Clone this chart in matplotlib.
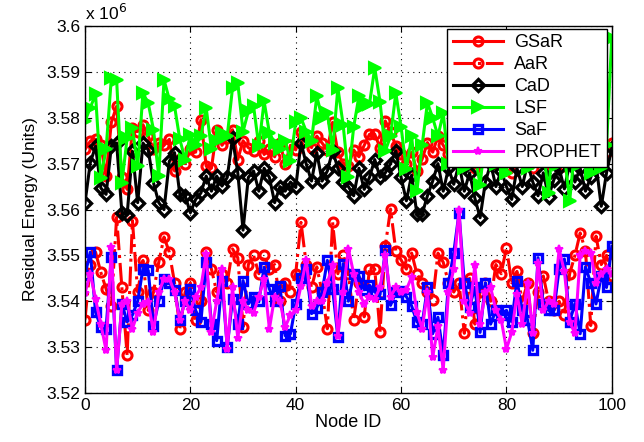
import numpy as np
import matplotlib
matplotlib.use('Agg')
import matplotlib.pyplot as plt
from matplotlib.ticker import FuncFormatter, MultipleLocator

plt.rcParams['font.family'] = ['Liberation Sans', 'DejaVu Sans']

# node ids 0..100, energy in units of 1e6
nodes = np.arange(0, 101)

gsar = [3.5731, 3.5749, 3.5753, 3.5740, 3.5673, 3.5790, 3.5825, 3.5670, 3.5644, 3.5778,
        3.5770, 3.5785, 3.5760, 3.5731, 3.5745, 3.5740, 3.5753, 3.5684, 3.5710, 3.5700,
        3.5731, 3.5725, 3.5796, 3.5695, 3.5690, 3.5774, 3.5740, 3.5755, 3.5774, 3.5709,
        3.5750, 3.5735, 3.5728, 3.5750, 3.5720, 3.5731, 3.5715, 3.5745, 3.5700, 3.5740,
        3.5730, 3.5770, 3.5750, 3.5735, 3.5760, 3.5745, 3.5730, 3.5790, 3.5725, 3.5700,
        3.5695, 3.5730, 3.5715, 3.5740, 3.5764, 3.5764, 3.5735, 3.5793, 3.5770, 3.5738,
        3.5720, 3.5699, 3.5725, 3.5684, 3.5710, 3.5746, 3.5725, 3.5760, 3.5740, 3.5720,
        3.5750, 3.5700, 3.5760, 3.5735, 3.5690, 3.5745, 3.5770, 3.5720, 3.5700, 3.5755,
        3.5735, 3.5680, 3.5740, 3.5765, 3.5710, 3.5690, 3.5750, 3.5725, 3.5700, 3.5760,
        3.5735, 3.5695, 3.5745, 3.5720, 3.5770, 3.5730, 3.5705, 3.5750, 3.5735, 3.5725,
        3.5745]

aar = [3.5360, 3.5480, 3.5507, 3.5463, 3.5427, 3.5390, 3.5583, 3.5430, 3.5282, 3.5576,
       3.5420, 3.5489, 3.5380, 3.5420, 3.5485, 3.5540, 3.5507, 3.5440, 3.5340, 3.5420,
       3.5440, 3.5358, 3.5400, 3.5507, 3.5470, 3.5420, 3.5460, 3.5440, 3.5514, 3.5495,
       3.5344, 3.5480, 3.5500, 3.5460, 3.5500, 3.5470, 3.5480, 3.5400, 3.5440, 3.5420,
       3.5460, 3.5572, 3.5480, 3.5430, 3.5475, 3.5420, 3.5340, 3.5572, 3.5460, 3.5500,
       3.5460, 3.5360, 3.5440, 3.5366, 3.5470, 3.5470, 3.5333, 3.5520, 3.5601, 3.5510,
       3.5490, 3.5470, 3.5505, 3.5460, 3.5440, 3.5420, 3.5402, 3.5505, 3.5485, 3.5440,
       3.5420, 3.5440, 3.5330, 3.5450, 3.5350, 3.5420, 3.5440, 3.5400, 3.5480, 3.5460,
       3.5517, 3.5440, 3.5465, 3.5400, 3.5440, 3.5330, 3.5420, 3.5455, 3.5400, 3.5380,
       3.5400, 3.5370, 3.5460, 3.5500, 3.5549, 3.5510, 3.5347, 3.5542, 3.5480, 3.5500,
       3.5455]

cad = [3.5615, 3.5702, 3.5738, 3.5647, 3.5633, 3.5738, 3.5745, 3.5593, 3.5589, 3.5727,
       3.5615, 3.5745, 3.5730, 3.5658, 3.5615, 3.5600, 3.5705, 3.5724, 3.5633, 3.5630,
       3.5593, 3.5622, 3.5636, 3.5673, 3.5640, 3.5673, 3.5651, 3.5670, 3.5756, 3.5680,
       3.5555, 3.5670, 3.5684, 3.5640, 3.5690, 3.5670, 3.5615, 3.5650, 3.5640, 3.5660,
       3.5648, 3.5746, 3.5699, 3.5662, 3.5724, 3.5662, 3.5684, 3.5728, 3.5690, 3.5660,
       3.5650, 3.5630, 3.5690, 3.5644, 3.5670, 3.5709, 3.5670, 3.5680, 3.5700, 3.5728,
       3.5670, 3.5619, 3.5675, 3.5590, 3.5590, 3.5630, 3.5662, 3.5700, 3.5640, 3.5690,
       3.5655, 3.5700, 3.5640, 3.5680, 3.5625, 3.5582, 3.5660, 3.5700, 3.5650, 3.5685,
       3.5650, 3.5622, 3.5690, 3.5650, 3.5700, 3.5660, 3.5630, 3.5680, 3.5628, 3.5665,
       3.5690, 3.5645, 3.5700, 3.5660, 3.5690, 3.5640, 3.5670, 3.5700, 3.5607, 3.5680,
       3.5734]

lsf = [3.5793, 3.5822, 3.5851, 3.5669, 3.5731, 3.5887, 3.5883, 3.5658, 3.5756, 3.5778,
       3.5694, 3.5854, 3.5832, 3.5774, 3.5673, 3.5883, 3.5840, 3.5825, 3.5753, 3.5709,
       3.5763, 3.5740, 3.5760, 3.5822, 3.5731, 3.5750, 3.5767, 3.5760, 3.5865, 3.5876,
       3.5770, 3.5814, 3.5825, 3.5738, 3.5836, 3.5767, 3.5745, 3.5731, 3.5750, 3.5706,
       3.5790, 3.5800, 3.5770, 3.5750, 3.5847, 3.5800, 3.5810, 3.5730, 3.5865, 3.5785,
       3.5670, 3.5780, 3.5847, 3.5825, 3.5830, 3.5909, 3.5835, 3.5728, 3.5760, 3.5854,
       3.5780, 3.5688, 3.5760, 3.5640, 3.5740, 3.5833, 3.5800, 3.5760, 3.5810, 3.5700,
       3.5780, 3.5740, 3.5690, 3.5800, 3.5720, 3.5654, 3.5760, 3.5820, 3.5700, 3.5750,
       3.5680, 3.5790, 3.5730, 3.5770, 3.5690, 3.5740, 3.5800, 3.5730, 3.5636, 3.5780,
       3.5700, 3.5720, 3.5618, 3.5740, 3.5700, 3.5760, 3.5680, 3.5730, 3.5690, 3.5740,
       3.5975]

saf = [3.5458, 3.5507, 3.5376, 3.5344, 3.5340, 3.5496, 3.5249, 3.5394, 3.5355, 3.5370,
       3.5400, 3.5471, 3.5467, 3.5347, 3.5400, 3.5449, 3.5440, 3.5425, 3.5360, 3.5400,
       3.5427, 3.5380, 3.5355, 3.5485, 3.5350, 3.5314, 3.5445, 3.5300, 3.5405, 3.5350,
       3.5445, 3.5394, 3.5410, 3.5400, 3.5474, 3.5427, 3.5400, 3.5434, 3.5325, 3.5329,
       3.5394, 3.5450, 3.5470, 3.5373, 3.5385, 3.5420, 3.5489, 3.5427, 3.5322, 3.5482,
       3.5400, 3.5460, 3.5455, 3.5425, 3.5435, 3.5420, 3.5415, 3.5511, 3.5391, 3.5420,
       3.5422, 3.5410, 3.5390, 3.5355, 3.5350, 3.5430, 3.5329, 3.5365, 3.5282, 3.5440,
       3.5506, 3.5593, 3.5440, 3.5387, 3.5430, 3.5332, 3.5440, 3.5350, 3.5380, 3.5370,
       3.5380, 3.5355, 3.5445, 3.5380, 3.5360, 3.5293, 3.5495, 3.5395, 3.5380, 3.5380,
       3.5470, 3.5492, 3.5355, 3.5395, 3.5329, 3.5475, 3.5440, 3.5394, 3.5455, 3.5430,
       3.5520]

prophet = [3.5418, 3.5460, 3.5405, 3.5350, 3.5293, 3.5518, 3.5249, 3.5394, 3.5400, 3.5340,
           3.5375, 3.5395, 3.5398, 3.5333, 3.5420, 3.5449, 3.5449, 3.5420, 3.5358, 3.5400,
           3.5380, 3.5410, 3.5430, 3.5503, 3.5333, 3.5400, 3.5471, 3.5296, 3.5430, 3.5320,
           3.5400, 3.5380, 3.5375, 3.5410, 3.5449, 3.5340, 3.5410, 3.5400, 3.5344, 3.5370,
           3.5380, 3.5434, 3.5489, 3.5390, 3.5400, 3.5400, 3.5440, 3.5478, 3.5325, 3.5420,
           3.5514, 3.5460, 3.5420, 3.5394, 3.5410, 3.5405, 3.5430, 3.5500, 3.5410, 3.5430,
           3.5420, 3.5425, 3.5453, 3.5376, 3.5340, 3.5420, 3.5278, 3.5345, 3.5250, 3.5420,
           3.5470, 3.5598, 3.5400, 3.5375, 3.5478, 3.5350, 3.5420, 3.5430, 3.5380, 3.5360,
           3.5296, 3.5332, 3.5415, 3.5350, 3.5440, 3.5330, 3.5484, 3.5380, 3.5400, 3.5395,
           3.5513, 3.5465, 3.5355, 3.5330, 3.5500, 3.5510, 3.5505, 3.5440, 3.5460, 3.5470,
           3.5460]

fig = plt.figure(figsize=(6.44, 4.42), dpi=100)
ax = fig.add_axes([0.132, 0.111, 0.818, 0.830])

lw = 2.2
ax.plot(nodes, np.array(gsar) * 1e6, '-', color='r', lw=lw, marker='o', ms=6.5,
        mfc='none', mew=2.2, label='GSaR')
ax.plot(nodes, np.array(aar) * 1e6, '-.', color='r', lw=lw, marker='o', ms=6.5,
        mfc='none', mew=2.2, label='AaR')
ax.plot(nodes, np.array(cad) * 1e6, '-', color='k', lw=lw, marker='D', ms=6.5,
        mfc='none', mew=2.4, label='CaD')
ax.plot(nodes, np.array(lsf) * 1e6, '-', color='#00ff00', lw=lw, marker='>', ms=9,
        mfc='#00ff00', mew=1.5, label='LSF')
ax.plot(nodes, np.array(saf) * 1e6, '-', color='b', lw=lw, marker='s', ms=6,
        mfc='none', mew=2.4, label='SaF')
ax.plot(nodes, np.array(prophet) * 1e6, '-', color='#ff00ff', lw=lw, marker='*', ms=6,
        mew=1.5, label='PROPHET')

ax.set_xlim(0, 100)
ax.set_ylim(3.52e6, 3.60e6)
ax.xaxis.set_major_locator(MultipleLocator(20))
ax.yaxis.set_major_locator(MultipleLocator(0.01e6))
ax.yaxis.set_major_formatter(FuncFormatter(lambda v, p: '%g' % round(v / 1e6, 2)))
ax.tick_params(direction='in', labelsize=12.5, top=True, right=True, length=4)
ax.grid(True, color='k', linestyle=(0, (1, 4)), linewidth=0.8)
for s in ax.spines.values():
    s.set_linewidth(1.0)

ax.text(0.0, 1.008, r'x 10$^6$', transform=ax.transAxes, fontsize=12.5,
        ha='left', va='bottom')
ax.set_xlabel('Node ID', fontsize=13, labelpad=1)
ax.set_ylabel('Residual Energy (Units)', fontsize=12.5, labelpad=6)

leg = ax.legend(loc='upper right', bbox_to_anchor=(0.99, 0.993), fontsize=13,
                handlelength=2.8, labelspacing=0.28, borderpad=0.3,
                handletextpad=0.6, fancybox=False, framealpha=1, borderaxespad=0)
leg.get_frame().set_edgecolor('k')
leg.get_frame().set_linewidth(1.0)

fig.savefig('out.png', dpi=100)
